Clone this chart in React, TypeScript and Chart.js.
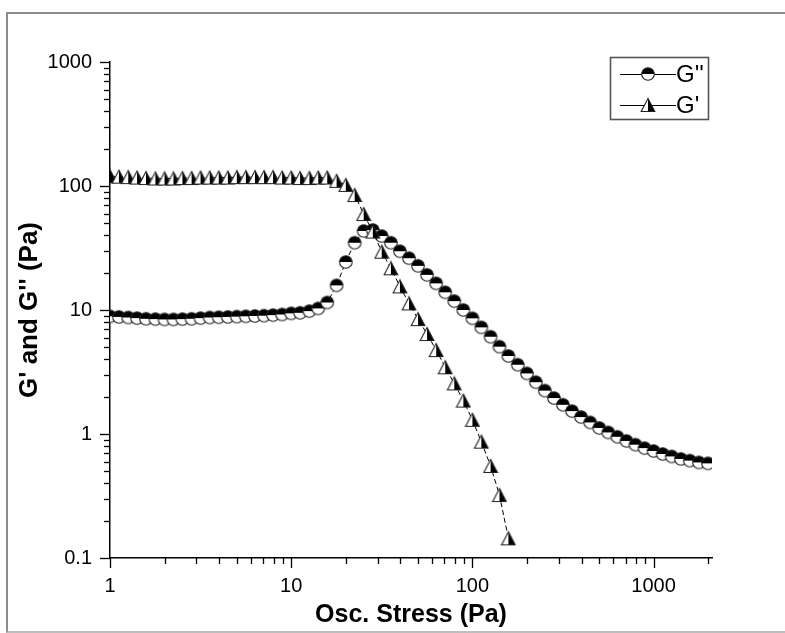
import React, { useEffect, useRef } from "react";
import { Chart, registerables } from "chart.js";

Chart.register(...registerables);

// Oscillatory stress (Pa) — sampled points
const stress: number[] = [
  1, 1.12, 1.26, 1.41, 1.58, 1.78, 2, 2.24, 2.51, 2.82,
  3.16, 3.55, 3.98, 4.47, 5.01, 5.62, 6.31, 7.08, 7.94, 8.91,
  10, 11.2, 12.6, 14.1, 15.8, 17.8, 20, 22.4, 25.1, 28.2,
  31.6, 35.5, 39.8, 44.7, 50.1, 56.2, 63.1, 70.8, 79.4, 89.1,
  100, 112, 126, 141, 158, 178, 200, 224, 251, 282,
  316, 355, 398, 447, 501, 562, 631, 708, 794, 891,
  1000, 1122, 1259, 1413, 1585, 1778, 1995,
];

// G'' (loss modulus, Pa)
const gDoublePrime: number[] = [
  8.9, 8.8, 8.7, 8.6, 8.5, 8.45, 8.4, 8.4, 8.45, 8.5,
  8.6, 8.7, 8.75, 8.8, 8.85, 8.9, 8.95, 9.0, 9.1, 9.2,
  9.4, 9.5, 9.8, 10.3, 11.5, 15.8, 24.4, 34.9, 43.4, 44.2,
  39.5, 34.9, 29.8, 26.2, 22.7, 19.2, 16.4, 13.9, 11.8, 10.0,
  8.57, 7.25, 6.09, 5.06, 4.26, 3.62, 3.08, 2.62, 2.24, 1.95,
  1.72, 1.53, 1.37, 1.24, 1.12, 1.03, 0.95, 0.88, 0.82, 0.77,
  0.73, 0.69, 0.66, 0.63, 0.61, 0.59, 0.58,
];

// G' (storage modulus, Pa)
const gPrime: number[] = [
  120, 119, 118, 117, 116, 115, 115, 115, 116, 116,
  117, 117, 117, 117, 118, 118, 118, 118, 118, 117,
  117, 116, 116, 117, 117, 110, 102, 84.6, 59.4, 42.9,
  29.5, 21.7, 15.5, 11.3, 8.45, 6.4, 4.75, 3.45, 2.56, 1.86,
  1.3, 0.867, 0.552, 0.322, 0.144,
];

const xTickValues: number[] = [
  1, 2, 3, 4, 5, 6, 7, 8, 9,
  10, 20, 30, 40, 50, 60, 70, 80, 90,
  100, 200, 300, 400, 500, 600, 700, 800, 900,
  1000, 2000,
];
const xTickLabels: string[] = ["1", "10", "100", "1000"];
const xLabelValues: number[] = [1, 10, 100, 1000];

const yTickValues: number[] = [
  0.1, 0.2, 0.3, 0.4, 0.5, 0.6, 0.7, 0.8, 0.9,
  1, 2, 3, 4, 5, 6, 7, 8, 9,
  10, 20, 30, 40, 50, 60, 70, 80, 90,
  100, 200, 300, 400, 500, 600, 700, 800, 900,
  1000,
];
const yTickLabels: string[] = ["0.1", "1", "10", "100", "1000"];
const yLabelValues: number[] = [0.1, 1, 10, 100, 1000];

const FONT = "'Liberation Sans', Arial, Helvetica, sans-serif";

function makeCircle(): HTMLCanvasElement {
  const c = document.createElement("canvas");
  c.width = 16;
  c.height = 16;
  const ctx = c.getContext("2d")!;
  const cx = 8, cy = 8, r = 6.3;
  ctx.beginPath();
  ctx.arc(cx, cy, r, 0, Math.PI);
  ctx.closePath();
  ctx.fillStyle = "#fff";
  ctx.fill();
  ctx.beginPath();
  ctx.arc(cx, cy, r, Math.PI, 2 * Math.PI);
  ctx.closePath();
  ctx.fillStyle = "#000";
  ctx.fill();
  ctx.beginPath();
  ctx.arc(cx, cy, r, 0, 2 * Math.PI);
  ctx.lineWidth = 1.1;
  ctx.strokeStyle = "#222";
  ctx.stroke();
  return c;
}

function makeTriangle(): HTMLCanvasElement {
  const c = document.createElement("canvas");
  c.width = 16;
  c.height = 16;
  const ctx = c.getContext("2d")!;
  const ax = 8, ay = 1.5, by = 14.5, lx = 1.2, rx = 14.8;
  ctx.beginPath();
  ctx.moveTo(ax, ay);
  ctx.lineTo(lx, by);
  ctx.lineTo(ax, by);
  ctx.closePath();
  ctx.fillStyle = "#fff";
  ctx.fill();
  ctx.beginPath();
  ctx.moveTo(ax, ay);
  ctx.lineTo(ax, by);
  ctx.lineTo(rx, by);
  ctx.closePath();
  ctx.fillStyle = "#000";
  ctx.fill();
  ctx.beginPath();
  ctx.moveTo(ax, ay);
  ctx.lineTo(lx, by);
  ctx.lineTo(rx, by);
  ctx.closePath();
  ctx.lineWidth = 1.1;
  ctx.strokeStyle = "#222";
  ctx.stroke();
  return c;
}

export default function App() {
  const ref = useRef<HTMLCanvasElement | null>(null);

  useEffect(() => {
    if (!ref.current) return;
    const circle = makeCircle();
    const tri = makeTriangle();

    const tickMarks = {
      id: "tickMarks",
      afterDraw(chart: any) {
        const ctx = chart.ctx;
        ctx.save();
        ctx.strokeStyle = "#000";
        ctx.lineWidth = 1.3;
        const xs = chart.scales.x;
        const ys = chart.scales.y;
        const bottom = chart.chartArea.bottom;
        const left = chart.chartArea.left;
        xTickValues.forEach((v) => {
          const px = Math.round(xs.getPixelForValue(v)) + 0.5;
          const len = xLabelValues.includes(v) ? 10 : 6;
          ctx.beginPath();
          ctx.moveTo(px, bottom);
          ctx.lineTo(px, bottom + len);
          ctx.stroke();
        });
        yTickValues.forEach((v) => {
          const py = Math.round(ys.getPixelForValue(v)) + 0.5;
          const len = yLabelValues.includes(v) ? 10 : 6;
          ctx.beginPath();
          ctx.moveTo(left, py);
          ctx.lineTo(left - len, py);
          ctx.stroke();
        });
        ctx.restore();
      },
    };

    const legendBox = {
      id: "legendBox",
      afterDraw(chart: any) {
        const ctx = chart.ctx;
        ctx.save();
        ctx.strokeStyle = "#555";
        ctx.lineWidth = 1.6;
        ctx.strokeRect(610.5, 57.5, 98, 62);
        const rows = [
          { y: 74, img: circle, text: "G''" },
          { y: 105, img: tri, text: "G'" },
        ];
        rows.forEach((r) => {
          ctx.beginPath();
          ctx.strokeStyle = "#000";
          ctx.lineWidth = 1;
          ctx.moveTo(620, r.y + 0.5);
          ctx.lineTo(676, r.y + 0.5);
          ctx.stroke();
          ctx.drawImage(r.img, 648 - 8, r.y - 8);
          ctx.fillStyle = "#000";
          ctx.font = `24px ${FONT}`;
          ctx.textBaseline = "middle";
          ctx.textAlign = "left";
          ctx.fillText(r.text, 676, r.y + 1);
        });
        ctx.restore();
      },
    };

    const chart = new Chart(ref.current, {
      type: "line",
      data: {
        datasets: [
          {
            label: "G''",
            data: stress.map((x, i) => ({ x, y: gDoublePrime[i] })),
            pointStyle: circle as any,
            pointRadius: 7,
            borderColor: "#000",
            borderWidth: 1,
            borderDash: [5, 3],
            fill: false,
            tension: 0,
            order: 1,
          },
          {
            label: "G'",
            data: gPrime.map((y, i) => ({ x: stress[i], y })),
            pointStyle: tri as any,
            pointRadius: 7,
            borderColor: "#000",
            borderWidth: 1,
            borderDash: [5, 3],
            fill: false,
            tension: 0,
            order: 0,
          },
        ],
      },
      options: {
        responsive: false,
        animation: false,
        events: [],
        layout: { padding: { left: 0, top: 62, right: 73, bottom: 0 } },
        plugins: {
          legend: { display: false },
          tooltip: { enabled: false },
        },
        scales: {
          x: {
            type: "logarithmic",
            position: "bottom",
            min: 1,
            max: 2100,
            grid: { display: false },
            border: { display: true, color: "#000", width: 1.5 },
            afterBuildTicks: (s: any) => {
              s.ticks = xTickValues.map((v) => ({ value: v }));
            },
            afterFit: (s: any) => {
              s.height = 75;
            },
            ticks: {
              autoSkip: false,
              maxRotation: 0,
              padding: 8,
              color: "#000",
              font: { family: FONT, size: 20 },
              callback: (v: any) => {
                const k = xLabelValues.indexOf(Number(v));
                return k >= 0 ? xTickLabels[k] : "";
              },
            },
            title: {
              display: true,
              text: "Osc. Stress (Pa)",
              color: "#000",
              font: { family: FONT, size: 25, weight: "bold" },
              padding: { top: 0, bottom: 3 },
            },
          },
          y: {
            type: "logarithmic",
            position: "left",
            min: 0.1,
            max: 1000,
            grid: { display: false },
            border: { display: true, color: "#000", width: 1.5 },
            afterBuildTicks: (s: any) => {
              s.ticks = yTickValues.map((v) => ({ value: v }));
            },
            afterFit: (s: any) => {
              s.width = 110;
            },
            ticks: {
              autoSkip: false,
              padding: 10,
              color: "#000",
              font: { family: FONT, size: 20 },
              callback: (v: any) => {
                const k = yLabelValues.indexOf(Number(v));
                return k >= 0 ? yTickLabels[k] : "";
              },
            },
            title: {
              display: true,
              text: "G' and G'' (Pa)",
              color: "#000",
              font: { family: FONT, size: 26, weight: "bold" },
              padding: { top: 14, bottom: 0 },
            },
          },
        },
      },
      plugins: [tickMarks, legendBox],
    } as any);

    return () => chart.destroy();
  }, []);

  return (
    <div
      style={{
        position: "fixed",
        left: 0,
        top: 0,
        width: 785,
        height: 633,
        background: "#fff",
        overflow: "hidden",
      }}
    >
      <div
        style={{
          position: "absolute",
          left: 6,
          top: 12,
          width: 800,
          height: 617,
          borderLeft: "2px solid #8c8c8c",
          borderTop: "2px solid #8c8c8c",
          borderBottom: "2px solid #bdbdbd",
          boxSizing: "content-box",
        }}
      />
      <canvas
        ref={ref}
        width={785}
        height={633}
        style={{ position: "absolute", left: 0, top: 0, width: 785, height: 633 }}
      />
    </div>
  );
}
